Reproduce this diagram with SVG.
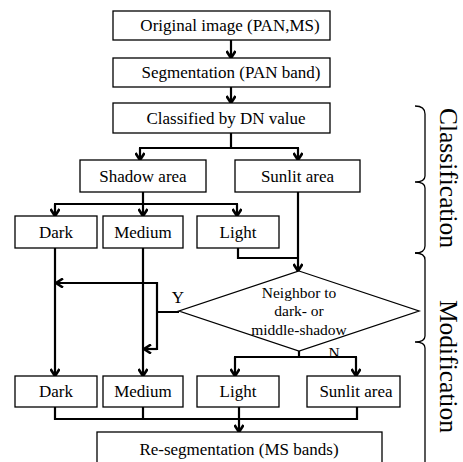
<svg xmlns="http://www.w3.org/2000/svg" width="463" height="462" viewBox="0 0 463 462">
<defs>
<style>
.box{fill:#fff;stroke:#000;stroke-width:1.3}
.t{font-family:"Liberation Serif","Times New Roman",serif;font-size:17px;fill:#000;text-anchor:middle}
.td{font-family:"Liberation Serif","Times New Roman",serif;font-size:15.5px;fill:#000;text-anchor:middle}
.big{font-family:"Liberation Serif","Times New Roman",serif;font-size:25.5px;fill:#000;text-anchor:middle}
.c{fill:none;stroke:#000;stroke-width:2.2}
.a{fill:none;stroke:#000;stroke-width:2.2;marker-end:url(#ah)}
.br{fill:none;stroke:#000;stroke-width:1.3}
</style>
<marker id="ah" viewBox="0 0 10 10" refX="8" refY="5" markerWidth="10" markerHeight="10" markerUnits="userSpaceOnUse" orient="auto">
<path d="M1,0.5 L8,5 L1,9.5" fill="none" stroke="#000" stroke-width="2.6"/>
</marker>
</defs>
<rect width="463" height="462" fill="#fff"/>
<g id="connectors">
<path class="a" d="M231,40 V58"/>
<path class="a" d="M231,87 V103"/>
<path class="c" d="M231,133 V148 M139,148 H299"/>
<path class="a" d="M140,148 V160"/>
<path class="a" d="M298,148 V160"/>
<path class="c" d="M143,192 V204 M54,204 H238"/>
<path class="a" d="M55,204 V216"/>
<path class="a" d="M143,204 V216"/>
<path class="a" d="M237,204 V216"/>
<path class="a" d="M298,192 V271"/>
<path class="c" d="M238,248 V258 H298"/>
<path class="a" d="M55,248 V376"/>
<path class="a" d="M143,248 V376"/>
<path class="c" d="M179,312 H157 M157,282 V350"/>
<path class="a" d="M157,283 H56"/>
<path class="a" d="M157,349 H144"/>
<path class="c" d="M299,351 V357 M234,357 H357"/>
<path class="a" d="M235,357 V376"/>
<path class="a" d="M356,357 V376"/>
<path class="c" d="M55,407 V419 H357 V407 M143,407 V419"/>
<path class="a" d="M239,407 V432"/>
</g>
<g id="n-original"><rect class="box" x="113" y="11" width="217" height="29"/><text class="t" x="230" y="31">Original image (PAN,MS)</text></g>
<g id="n-seg"><rect class="box" x="113" y="58" width="217" height="29"/><text class="t" x="231" y="78">Segmentation (PAN band)</text></g>
<g id="n-class"><rect class="box" x="113" y="103" width="217" height="30"/><text class="t" x="226" y="124">Classified by DN value</text></g>
<g id="n-shadow"><rect class="box" x="80" y="160" width="126" height="32"/><text class="t" x="143" y="182">Shadow area</text></g>
<g id="n-sunlit"><rect class="box" x="235" y="160" width="125" height="32"/><text class="t" x="297.5" y="182">Sunlit area</text></g>
<g id="n-dark1"><rect class="box" x="15" y="216" width="82" height="32"/><text class="t" x="56" y="238">Dark</text></g>
<g id="n-medium1"><rect class="box" x="103" y="216" width="80" height="32"/><text class="t" x="143" y="238">Medium</text></g>
<g id="n-light1"><rect class="box" x="197" y="216" width="82" height="32"/><text class="t" x="238" y="238">Light</text></g>
<g id="n-decision"><polygon class="box" points="299,271 419,311 299,351 179,311"/>
<text class="td" x="299" y="298">Neighbor to</text><text class="td" x="299" y="316">dark- or</text><text class="td" x="299" y="335">middle-shadow</text></g>
<g id="labels"><text class="t" x="178" y="303">Y</text><text class="td" x="334" y="358">N</text></g>
<g id="n-dark2"><rect class="box" x="15" y="376" width="82" height="31"/><text class="t" x="56" y="397">Dark</text></g>
<g id="n-medium2"><rect class="box" x="103" y="376" width="80" height="31"/><text class="t" x="143" y="397">Medium</text></g>
<g id="n-light2"><rect class="box" x="197" y="376" width="82" height="31"/><text class="t" x="238" y="397">Light</text></g>
<g id="n-sunlit2"><rect class="box" x="307" y="376" width="93" height="31"/><text class="t" x="356" y="397">Sunlit area</text></g>
<g id="n-reseg"><rect class="box" x="97" y="432" width="285" height="40"/><text class="t" x="239" y="455">Re-segmentation (MS bands)</text></g>
<g id="braces">
<path class="br" d="M415,106 Q425,106 425,114 L425,176 Q425,182 415,182 Q425,182 425,188 L425,246 Q425,253 415,253"/>
<path class="br" d="M415,253 Q425,253 425,260 L425,336 Q425,342 415,342 Q425,342 425,348 L425,470"/>
<text class="big" transform="translate(440,178) rotate(90)">Classification</text>
<text class="big" transform="translate(440,366.5) rotate(90)">Modification</text>
</g>
</svg>
